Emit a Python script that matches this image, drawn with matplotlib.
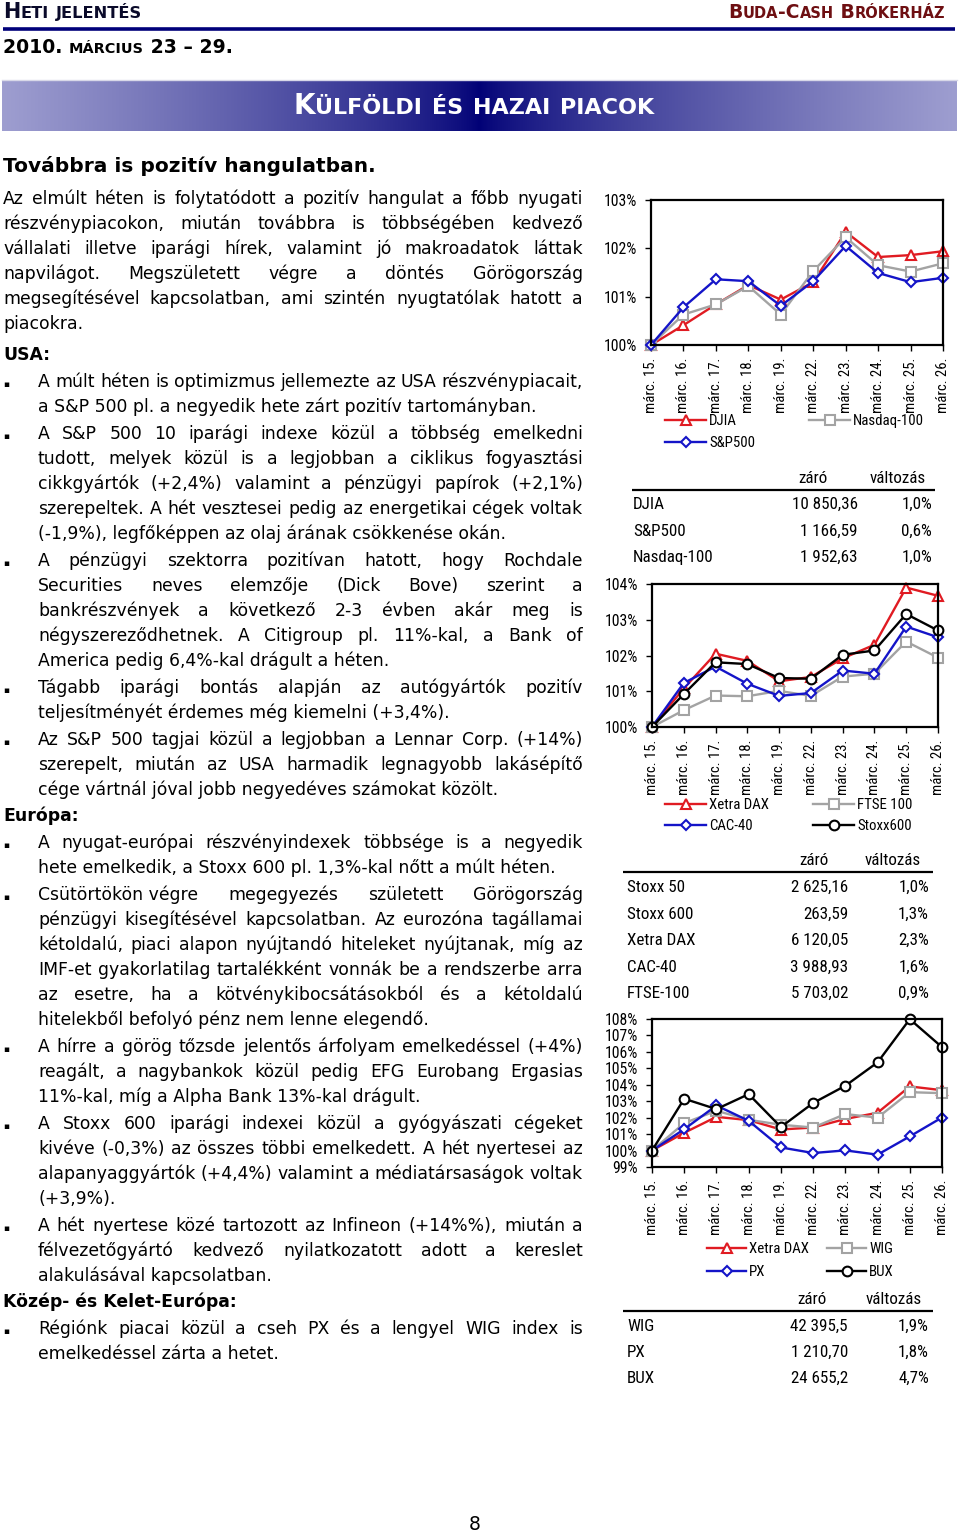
import numpy as np
import matplotlib
matplotlib.use('Agg')
import matplotlib.pyplot as plt
from matplotlib.font_manager import FontProperties
from matplotlib import font_manager as fm
from matplotlib.legend import Legend

# ---------------- DATA ----------------
dates = ['márc. 15.', 'márc. 16.', 'márc. 17.', 'márc. 18.', 'márc. 19.',
         'márc. 22.', 'márc. 23.', 'márc. 24.', 'márc. 25.', 'márc. 26.']

djia = [100.0, 100.41, 100.84, 101.24, 100.94, 101.30, 102.34, 101.82, 101.86, 101.94]
nasdaq = [100.0, 100.63, 100.84, 101.22, 100.63, 101.53, 102.23, 101.65, 101.52, 101.69]
sp500 = [100.0, 100.78, 101.36, 101.32, 100.81, 101.32, 102.05, 101.49, 101.30, 101.39]

dax = [100.0, 101.08, 102.05, 101.85, 101.28, 101.40, 101.92, 102.30, 103.90, 103.67]
ftse = [100.0, 100.47, 100.88, 100.86, 101.01, 100.87, 101.41, 101.49, 102.39, 101.94]
cac = [100.0, 101.23, 101.69, 101.21, 100.87, 100.95, 101.58, 101.49, 102.81, 102.51]
stoxx600 = [100.0, 100.92, 101.81, 101.76, 101.37, 101.35, 102.02, 102.14, 103.16, 102.70]

wig = [100.0, 101.67, 102.42, 101.87, 101.57, 101.40, 102.22, 102.00, 103.55, 103.49]
px_idx = [100.0, 101.30, 102.74, 101.81, 100.19, 99.85, 100.01, 99.75, 100.86, 102.01]
bux = [100.0, 103.15, 102.52, 103.43, 101.43, 102.89, 103.94, 105.36, 107.99, 106.29]

usa_names = ['DJIA', 'S&P500', 'Nasdaq-100']
usa_close = ['10 850,36', '1 166,59', '1 952,63']
usa_chg = ['1,0%', '0,6%', '1,0%']

eu_names = ['Stoxx 50', 'Stoxx 600', 'Xetra DAX', 'CAC-40', 'FTSE-100']
eu_close = ['2 625,16', '263,59', '6 120,05', '3 988,93', '5 703,02']
eu_chg = ['1,0%', '1,3%', '2,3%', '1,6%', '0,9%']

cee_names = ['WIG', 'PX', 'BUX']
cee_close = ['42 395,5', '1 210,70', '24 655,2']
cee_chg = ['1,9%', '1,8%', '4,7%']

table_header = ['záró', 'változás']

# text content (line by line as in the report)
title_text = 'Továbbra is pozitív hangulatban.'
intro = ["Az elmúlt héten is folytatódott a pozitív hangulat a főbb nyugati",
         "részvénypiacokon, miután továbbra is többségében kedvező",
         "vállalati illetve iparági hírek, valamint jó makroadatok láttak",
         "napvilágot. Megszületett végre a döntés Görögország",
         "megsegítésével kapcsolatban, ami szintén nyugtatólak hatott a",
         "piacokra."]
usa_bullets = [
    ["A múlt héten is optimizmus jellemezte az USA részvénypiacait,",
     "a S&P 500 pl. a negyedik hete zárt pozitív tartományban."],
    ["A S&P 500 10 iparági indexe közül a többség emelkedni",
     "tudott, melyek közül is a legjobban a ciklikus fogyasztási",
     "cikkgyártók (+2,4%) valamint a pénzügyi papírok (+2,1%)",
     "szerepeltek. A hét vesztesei pedig az energetikai cégek voltak",
     "(-1,9%), legfőképpen az olaj árának csökkenése okán."],
    ["A pénzügyi szektorra pozitívan hatott, hogy Rochdale",
     "Securities neves elemzője (Dick Bove) szerint a",
     "bankrészvények a következő 2-3 évben akár meg is",
     "négyszereződhetnek. A Citigroup pl. 11%-kal, a Bank of",
     "America pedig 6,4%-kal drágult a héten."],
    ["Tágabb iparági bontás alapján az autógyártók pozitív",
     "teljesítményét érdemes még kiemelni (+3,4%)."],
    ["Az S&P 500 tagjai közül a legjobban a Lennar Corp. (+14%)",
     "szerepelt, miután az USA harmadik legnagyobb lakásépítő",
     "cége vártnál jóval jobb negyedéves számokat közölt."],
]
eu_bullets = [
    ["A nyugat-európai részvényindexek többsége is a negyedik",
     "hete emelkedik, a Stoxx 600 pl. 1,3%-kal nőtt a múlt héten."],
    ["Csütörtökön\u00a0végre megegyezés született Görögország",
     "pénzügyi kisegítésével kapcsolatban. Az eurozóna tagállamai",
     "kétoldalú, piaci alapon nyújtandó hiteleket nyújtanak, míg az",
     "IMF-et gyakorlatilag tartalékként vonnák be a rendszerbe arra",
     "az esetre, ha a kötvénykibocsátásokból és a kétoldalú",
     "hitelekből befolyó pénz nem lenne elegendő."],
    ["A hírre a görög tőzsde jelentős árfolyam emelkedéssel (+4%)",
     "reagált, a nagybankok közül pedig EFG Eurobang Ergasias",
     "11%-kal, míg a Alpha Bank 13%-kal drágult."],
    ["A Stoxx 600 iparági indexei közül a gyógyászati cégeket",
     "kivéve (-0,3%) az összes többi emelkedett. A hét nyertesei az",
     "alapanyaggyártók (+4,4%) valamint a médiatársaságok voltak",
     "(+3,9%)."],
    ["A hét nyertese közé tartozott az Infineon (+14%%), miután a",
     "félvezetőgyártó kedvező nyilatkozatott adott a kereslet",
     "alakulásával kapcsolatban."],
]
cee_bullets = [
    ["Régiónk piacai közül a cseh PX és a lengyel WIG index is",
     "emelkedéssel zárta a hetet."],
]

# ---------------- STYLE ----------------
W, H = 960, 1535
BODY = ['DejaVu Sans']
RED, GRAY, BLUE, BLACK = '#e01b22', '#a3a3a3', '#1414c8', '#000000'
NAVY = '#00007a'
BODY_SIZE = 12.4
HEAD_SIZE = 12.4


def pick_narrow():
    avail = {}
    for f in fm.fontManager.ttflist:
        avail.setdefault(f.name, set()).add(str(f.stretch))
    for cand in ['Liberation Sans Narrow', 'Arial Narrow', 'Roboto Condensed',
                 'Open Sans Condensed', 'Noto Sans Condensed', 'DejaVu Sans Condensed']:
        if cand in avail:
            return cand, 'normal'
    for cand in ['Noto Sans', 'Roboto', 'Open Sans', 'DejaVu Sans']:
        st = avail.get(cand, set())
        for s in ['condensed', 'semi-condensed']:
            if s in st:
                return cand, s
    return 'Liberation Sans', 'normal'


NARROW_NAME, NARROW_STRETCH = pick_narrow()
NARROW = [NARROW_NAME, 'Liberation Sans', 'DejaVu Sans']

fig = plt.figure(figsize=(W / 100, H / 100), dpi=100)
bg = fig.add_axes([0, 0, 1, 1])
bg.set_xlim(0, W)
bg.set_ylim(H, 0)
bg.axis('off')
renderer = fig.canvas.get_renderer()


def fprop(size, weight='normal', family=None):
    if family is NARROW:
        return FontProperties(family=NARROW, size=size, weight=weight,
                              stretch=NARROW_STRETCH)
    return FontProperties(family=family or BODY, size=size, weight=weight)


def tw(s, size, weight='normal', family=None):
    fp = fprop(size, weight, family)
    a = renderer.get_text_width_height_descent('|' + s + '|', fp, ismath=False)[0]
    b = renderer.get_text_width_height_descent('||', fp, ismath=False)[0]
    return a - b


def fit_size(s, target, weight='normal', family=None):
    return 12.0 * target / tw(s, 12.0, weight, family)


def put(x, y, s, size, weight='normal', family=None, color='black', ha='left'):
    bg.text(x, y, s, fontproperties=fprop(size, weight, family), color=color,
            ha=ha, va='baseline')


def justified(x0, x1, y, line, size, justify=True):
    words = line.split(' ')
    if not justify or len(words) == 1:
        put(x0, y, line, size)
        return
    widths = [tw(w, size) for w in words]
    gap = (x1 - x0 - sum(widths)) / (len(words) - 1)
    x = x0
    for w, wd in zip(words, widths):
        put(x, y, w, size)
        x += wd + gap


def smallcaps(x, y, s, target_w, ratio, color, align='left'):
    def segs_for(big):
        small = big * ratio
        segs = []
        for ch in s:
            t, sz = (ch.upper(), small) if ch.islower() else (ch, big)
            if segs and segs[-1][1] == sz:
                segs[-1][0] += t
            else:
                segs.append([t, sz])
        return segs
    base = sum(tw(t, sz, 'bold') for t, sz in segs_for(12.0))
    big = 12.0 * target_w / base
    segs = segs_for(big)
    widths = [tw(t, sz, 'bold') for t, sz in segs]
    total = sum(widths)
    if align == 'right':
        x = x - total
    elif align == 'center':
        x = x - total / 2
    for (t, sz), wd in zip(segs, widths):
        bg.text(x, y, t, fontproperties=fprop(sz, 'bold'), color=color,
                ha='left', va='baseline')
        x += wd


# ---------------- HEADER ----------------
smallcaps(3, 18, 'Heti jelentés', 140, 0.78, '#0a0a2a')
smallcaps(945, 18, 'Buda-Cash Brókerház', 217, 0.78, '#6e0f12', align='right')
bg.plot([3, 955], [29, 29], color=NAVY, lw=2.6, solid_capstyle='butt')
smallcaps(3, 53, '2010. március 23 – 29.', 229, 0.76, 'black')

xs = np.linspace(-1, 1, 800)
t = np.abs(xs) ** 0.75
light = np.array([158, 158, 208]) / 255.0
dark = np.array([0, 0, 118]) / 255.0
grad = dark[None, :] + (light - dark)[None, :] * t[:, None]
bg.imshow(grad[None, :, :], extent=(2, 957, 131, 80), aspect='auto', zorder=0,
          interpolation='bilinear')
bg.plot([2, 957], [79.5, 79.5], color='#d8d8e8', lw=1)
smallcaps(474, 114, 'Külföldi és hazai piacok', 362, 0.8, 'white', align='center')
bg.set_xlim(0, W)
bg.set_ylim(H, 0)

# ---------------- BODY TEXT ----------------
X0, XB, X1 = 3, 38, 583
LH = 25
BASE = 6  # baseline offset from visual line centre

hs = fit_size(title_text, 369, weight='bold')
put(X0, 165 + 7, title_text, hs, weight='bold')

y = 198
for i, line in enumerate(intro):
    justified(X0, X1, y + BASE, line, BODY_SIZE, justify=(i < len(intro) - 1))
    y += LH
y -= LH


def section(title, y, bullets, gap_head):
    y += gap_head
    put(X0, y + BASE, title, HEAD_SIZE, weight='bold')
    y += 27
    for b in bullets:
        bg.text(6, y + 6, '\u25aa', fontproperties=fprop(6.5), ha='center', va='baseline')
        for i, line in enumerate(b):
            justified(XB, X1, y + BASE, line, BODY_SIZE, justify=(i < len(b) - 1))
            y += LH
        y += 2
    return y - LH - 2


y = section('USA:', y, usa_bullets, 31)
y = section('Európa:', y, eu_bullets, 26)
y = section('Közép- és Kelet-Európa:', y, cee_bullets, 26)

put(475, 1530, '8', 13.5, ha='center')

# chart / table font sizes fitted to the reference text widths
XLAB_SIZE = fit_size('márc. 15.', 55, family=NARROW)
YLAB_SIZE = fit_size('100%', 33, family=NARROW)
LEG_SIZE = fit_size('Nasdaq-100', 70, family=NARROW)
TABLE_SIZE = fit_size('Nasdaq-100', 80, family=NARROW)


# ---------------- CHARTS ----------------
def px_axes(l, t, r, b):
    return fig.add_axes([l / W, 1 - b / H, (r - l) / W, (b - t) / H])


def line_chart(rect, series, ylim, legend_pos, hl_px):
    ax = px_axes(*rect)
    x = np.arange(len(dates))
    lines = []
    for name, vals, color, marker, ms in series:
        ln, = ax.plot(x, vals, color=color, lw=1.7, marker=marker, ms=ms,
                      mfc='white', mec=color, mew=1.5, clip_on=False, label=name)
        lines.append(ln)
    ax.set_xlim(0, len(dates) - 1)
    ax.set_ylim(*ylim)
    yt = list(range(ylim[0], ylim[1] + 1))
    ax.set_yticks(yt)
    ax.set_yticklabels([f'{v}%' for v in yt])
    ax.set_xticks(x)
    ax.set_xticklabels(dates, rotation=90)
    for lab in ax.get_xticklabels():
        lab.set_fontproperties(fprop(XLAB_SIZE, family=NARROW))
    for lab in ax.get_yticklabels():
        lab.set_fontproperties(fprop(YLAB_SIZE, family=NARROW))
    ax.tick_params(axis='both', direction='out', length=4, width=1)
    ax.tick_params(axis='x', pad=5)
    ax.tick_params(axis='y', pad=6)
    for s in ax.spines.values():
        s.set_linewidth(1.6)
    fpl = fprop(LEG_SIZE, family=NARROW)
    em = LEG_SIZE * 100 / 72.0
    for ln, (hx, hy) in zip(lines, legend_pos):
        leg = Legend(ax, [ln], [ln.get_label()], loc='center left',
                     bbox_to_anchor=(hx / W, 1 - hy / H),
                     bbox_transform=fig.transFigure, frameon=False,
                     borderpad=0, borderaxespad=0, handlelength=hl_px / em,
                     handletextpad=3 / em, prop=fpl)
        ax.add_artist(leg)
    return ax


line_chart((651, 200, 943, 345),
           [('DJIA', djia, RED, '^', 7.5),
            ('Nasdaq-100', nasdaq, GRAY, 's', 6.5),
            ('S&P500', sp500, BLUE, 'D', 5.5)],
           (100, 103), [(665, 421), (809, 421), (665, 443)], 41)

line_chart((652, 584, 938, 727),
           [('Xetra DAX', dax, RED, '^', 7.5),
            ('FTSE 100', ftse, GRAY, 's', 6.5),
            ('CAC-40', cac, BLUE, 'D', 5.5),
            ('Stoxx600', stoxx600, BLACK, 'o', 7)],
           (100, 104), [(665, 805), (813, 805), (665, 826), (813, 826)], 41)

line_chart((652, 1019, 942, 1167),
           [('Xetra DAX', dax, RED, '^', 7.5),
            ('WIG', wig, GRAY, 's', 6.5),
            ('PX', px_idx, BLUE, 'D', 5.5),
            ('BUX', bux, BLACK, 'o', 7)],
           (99, 108), [(707, 1249), (827, 1249), (707, 1272), (827, 1272)], 39)


# ---------------- TABLES ----------------
def table(head_y, line_y, lx0, lx1, name_x, val_x, pct_x, zc, vc, row_y,
          names, closes, chgs):
    off = 6.3
    put(zc, head_y + off, table_header[0], TABLE_SIZE, family=NARROW, ha='center')
    put(vc, head_y + off, table_header[1], TABLE_SIZE, family=NARROW, ha='center')
    bg.plot([lx0, lx1], [line_y, line_y], color='black', lw=1.6, solid_capstyle='butt')
    for ry, n, c, p in zip(row_y, names, closes, chgs):
        put(name_x, ry + off, n, TABLE_SIZE, family=NARROW)
        put(val_x, ry + off, c, TABLE_SIZE, family=NARROW, ha='right')
        put(pct_x, ry + off, p, TABLE_SIZE, family=NARROW, ha='right')


table(477, 490, 632, 935, 633, 858, 932, 813, 898, [503, 530, 556],
      usa_names, usa_close, usa_chg)
table(859, 872, 623, 933, 627, 848, 929, 814, 893, [886, 912.5, 939, 965.5, 992],
      eu_names, eu_close, eu_chg)
table(1298, 1311, 623, 933, 627, 848, 929, 812, 894, [1325, 1351, 1377],
      cee_names, cee_close, cee_chg)

fig.savefig('out.png', dpi=100)
